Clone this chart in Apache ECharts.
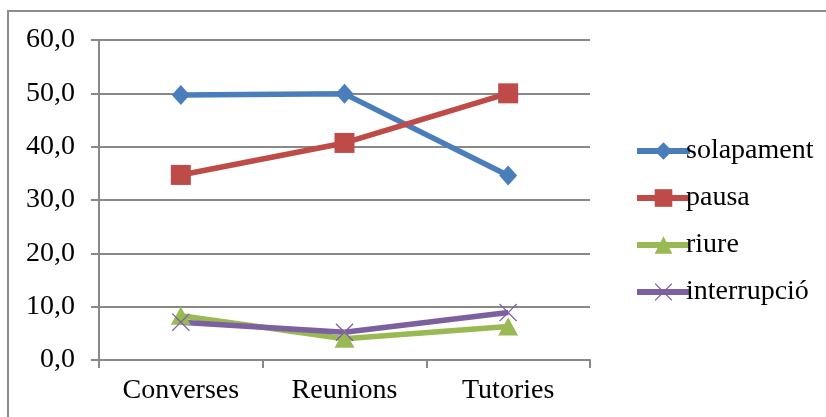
<!DOCTYPE html>
<html>
<head>
<meta charset="utf-8">
<script src="https://cdn.jsdelivr.net/npm/echarts@6/dist/echarts.min.js"></script>
<style>
  html, body { margin: 0; padding: 0; background: #fff; }
  #chart { width: 826px; height: 417px; }
</style>
</head>
<body>
<div id="chart"></div>
<script>
  // dades llegides del gràfic
  var categories = ['Converses', 'Reunions', 'Tutories'];
  var solapament = [49.7, 49.9, 34.6];
  var pausa = [34.7, 40.7, 50.0];
  var riure = [8.3, 4.0, 6.3];
  var interrupcio = [7.1, 5.2, 8.9];
  var yTicks = [0, 10, 20, 30, 40, 50, 60];

  var crossPath = 'path://M0,1L1,0L10,9L19,0L20,1L11,10L20,19L19,20L10,11L1,20L0,19L9,10Z';
  var font = '"Liberation Serif", "Times New Roman", serif';

  function serie(name, data, color, symbol, size) {
    return {
      name: name,
      type: 'line',
      data: data,
      symbol: symbol,
      symbolSize: size,
      lineStyle: { width: 5.5, color: color },
      itemStyle: { color: color },
      emphasis: { disabled: true }
    };
  }

  var chart = echarts.init(document.getElementById('chart'));
  chart.setOption({
    animation: false,
    textStyle: { fontFamily: font },
    graphic: [{
      type: 'rect',
      shape: { x: 8, y: 11, width: 840, height: 430 },
      style: { fill: 'none', stroke: '#8c8c8c', lineWidth: 2 }
    }],
    grid: { left: 99, right: 236, top: 40, bottom: 57 },
    legend: {
      orient: 'vertical',
      left: 629,
      top: 132,
      itemWidth: 53,
      itemHeight: 22,
      itemGap: 19,
      lineStyle: { width: 6 },
      textStyle: { fontFamily: font, fontSize: 28, color: '#000', padding: [0, 0, 0, -9] },
      data: ['solapament', 'pausa', 'riure', 'interrupció']
    },
    xAxis: {
      type: 'category',
      data: categories,
      boundaryGap: true,
      axisLine: { lineStyle: { color: '#888', width: 2 } },
      axisTick: { show: true, length: 8, interval: 0, lineStyle: { color: '#888', width: 2 } },
      axisLabel: { fontFamily: font, fontSize: 28, color: '#000', margin: 17 }
    },
    yAxis: {
      type: 'value',
      min: yTicks[0],
      max: yTicks[yTicks.length - 1],
      interval: 10,
      axisLine: { show: true, lineStyle: { color: '#888', width: 2 } },
      axisTick: { show: true, length: 8, lineStyle: { color: '#888', width: 2 } },
      splitLine: { lineStyle: { color: '#888', width: 2 } },
      axisLabel: {
        fontFamily: font, fontSize: 28, color: '#000', margin: 24,
        formatter: function (v) { return v.toFixed(1).replace('.', ','); }
      }
    },
    series: [
      serie('solapament', solapament, '#4a7ebb', 'diamond', [18, 20]),
      serie('pausa', pausa, '#be4b48', 'rect', 20),
      serie('riure', riure, '#98b954', 'triangle', [20, 18]),
      serie('interrupció', interrupcio, '#7d60a0', crossPath, 18)
    ]
  });
</script>
</body>
</html>
